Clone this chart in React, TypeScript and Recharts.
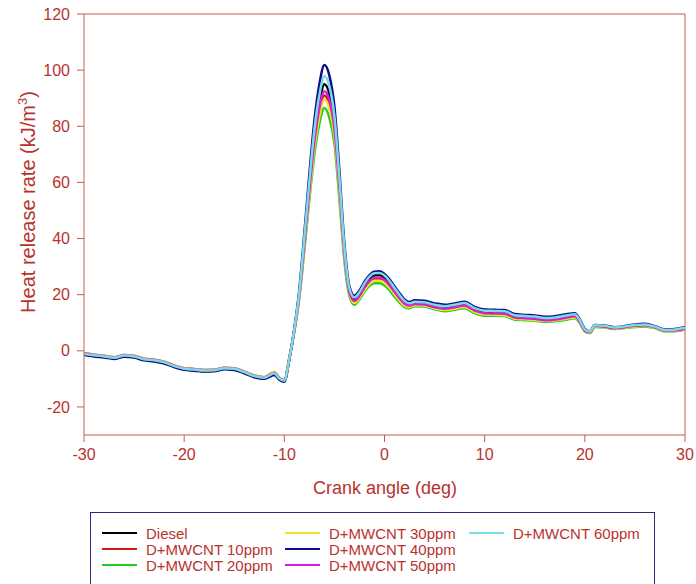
import React from "react";
import { LineChart, Line, XAxis, YAxis, Legend, ReferenceLine, Label } from "recharts";

// crank angle (deg)
const angles = [
  -30, -29, -28, -27, -26, -25, -24, -23, -22, -21, -20, -19, -18, -17, -16, -15, -14, -13, -12, -11,
  -10.5, -10, -9.5, -9, -8.5, -8, -7.5, -7, -6.5, -6, -5.5, -5, -4.5, -4, -3.5, -3,
  -2.5, -2, -1.5, -1, -0.5, 0, 0.5, 1, 1.5, 2, 2.5, 3,
  4, 5, 6, 7, 8, 9, 10, 11, 12, 13, 14, 15, 16, 17, 18, 19,
  19.5, 20, 20.5, 21,
  22, 23, 24, 25, 26, 27, 28, 29, 30,
];

// heat release rate (kJ/m3)
const diesel = [
  -1.3, -1.8, -2.2, -2.7, -1.9, -2.2, -3.2, -3.6, -4.3, -5.6, -6.6, -6.9, -7.2, -7.1, -6.4, -6.6, -7.8, -9.2, -9.8, -8.3,
  -10.1, -10.8, -2.8, 7.5, 20.5, 39.5, 59, 76.5, 88.5, 95, 91.5, 81.5, 59.5, 35.5, 21.5, 18.4,
  20.2, 23.3, 25.7, 26.9, 27.0, 26.1, 24.2, 21.8, 19.4, 17.3, 16.6, 17.2,
  17.0, 16.0, 15.5, 16.0, 16.6, 14.8, 13.9, 13.8, 13.7, 12.3, 12.0, 11.8, 11.3, 11.5, 12.1, 12.7,
  10.6, 7.4, 6.7, 8.9,
  8.7, 8.1, 8.5, 9.0, 9.2, 8.5, 7.3, 7.4, 8.0,
];
const mw10 = [
  -0.9, -1.4, -1.8, -2.3, -1.5, -1.8, -2.8, -3.2, -3.9, -5.2, -6.2, -6.5, -6.8, -6.7, -6.0, -6.2, -7.4, -8.8, -9.4, -7.6,
  -9.7, -10.4, -2.6, 7.2, 19.7, 37.6, 56.3, 73.3, 85, 91, 87.6, 77.8, 57.2, 34, 20.6, 17.5,
  19.2, 22.1, 24.4, 25.6, 25.7, 24.8, 23.0, 20.7, 18.4, 16.5, 15.9, 16.5,
  16.3, 15.3, 14.8, 15.3, 15.9, 14.1, 13.2, 13.1, 13.0, 11.7, 11.4, 11.2, 10.8, 11.0, 11.5, 12.1,
  10.2, 7.1, 6.5, 8.7,
  8.5, 7.9, 8.3, 8.8, 9.0, 8.3, 7.1, 7.2, 7.8,
];
const mw20 = [
  -1.0, -1.5, -1.9, -2.4, -1.6, -1.9, -2.9, -3.3, -4.0, -5.3, -6.3, -6.6, -6.9, -6.8, -6.1, -6.3, -7.5, -8.9, -9.5, -7.7,
  -9.8, -10.5, -2.5, 7, 19, 36, 54, 70, 81, 86.5, 83, 74, 54, 32, 19.5, 16.4,
  18.3, 21, 23.2, 24.1, 24.1, 23.3, 21.6, 19.3, 17.2, 15.6, 15.2, 15.9,
  15.8, 14.8, 14.1, 14.6, 15.2, 13.4, 12.5, 12.5, 12.4, 11.1, 10.9, 10.7, 10.3, 10.5, 11.0, 11.6,
  9.8, 6.9, 6.3, 8.5,
  8.3, 7.8, 8.1, 8.5, 8.7, 8.1, 6.9, 7.0, 7.5,
];
const mw30 = [
  -0.9, -1.4, -1.8, -2.3, -1.5, -1.8, -2.8, -3.2, -3.9, -5.2, -6.2, -6.5, -6.8, -6.7, -6.0, -6.2, -7.4, -8.8, -9.4, -7.5,
  -9.7, -10.4, -2.6, 7.0, 19.3, 37, 55.4, 72.1, 83.5, 89.5, 86.1, 76.5, 56.3, 33.4, 20.2, 17.0,
  18.8, 21.6, 23.9, 25.0, 25.0, 24.2, 22.4, 20.1, 17.9, 16.1, 15.6, 16.2,
  16.1, 15.1, 14.5, 15.0, 15.6, 13.8, 12.9, 12.8, 12.7, 11.4, 11.2, 11.0, 10.6, 10.8, 11.3, 11.9,
  10.0, 7.0, 6.4, 8.6,
  8.4, 7.9, 8.2, 8.7, 8.9, 8.2, 7.0, 7.1, 7.7,
];
const mw40 = [
  -1.5, -2.0, -2.4, -2.9, -2.1, -2.4, -3.4, -3.8, -4.5, -5.8, -6.8, -7.1, -7.4, -7.3, -6.6, -6.8, -8.0, -9.4, -10.0, -8.6,
  -10.3, -11.0, -3, 8, 22, 42, 63, 82, 95, 101.8, 98, 87, 64, 38, 23, 19.6,
  21.5, 24.6, 27, 28.2, 28.3, 27.4, 25.5, 23, 20.5, 18.3, 17.4, 18.0,
  17.8, 16.9, 16.4, 16.9, 17.5, 15.6, 14.7, 14.6, 14.5, 13.1, 12.8, 12.6, 12.1, 12.3, 12.9, 13.4,
  11.2, 7.8, 7.0, 9.2,
  9.0, 8.4, 8.8, 9.4, 9.6, 8.8, 7.6, 7.8, 8.4,
];
const mw50 = [
  -1.0, -1.5, -1.9, -2.4, -1.6, -1.9, -2.9, -3.3, -4.0, -5.3, -6.3, -6.6, -6.9, -6.8, -6.1, -6.3, -7.5, -8.9, -9.5, -7.8,
  -9.8, -10.5, -2.7, 7.3, 20, 38.2, 57.3, 74.5, 86.4, 92.5, 89.1, 79.1, 58.2, 34.5, 20.8, 17.8,
  19.5, 22.5, 24.8, 26.0, 26.1, 25.2, 23.4, 21.0, 18.7, 16.8, 16.1, 16.7,
  16.5, 15.5, 15.0, 15.5, 16.1, 14.3, 13.4, 13.3, 13.2, 11.9, 11.6, 11.4, 10.9, 11.1, 11.7, 12.3,
  10.3, 7.2, 6.6, 8.8,
  8.6, 8.0, 8.4, 8.9, 9.1, 8.4, 7.2, 7.3, 7.9,
];
const mw60 = [
  -1.1, -1.6, -2.0, -2.5, -1.7, -2.0, -3.0, -3.4, -4.1, -5.4, -6.4, -6.7, -7.0, -6.9, -6.2, -6.4, -7.6, -9.0, -9.6, -8.0,
  -9.9, -10.6, -2.8, 7.8, 21.2, 40.5, 60.5, 78.8, 91.2, 97.8, 94.2, 83.6, 61.5, 36.6, 22.2, 19.0,
  20.9, 24.0, 26.4, 27.6, 27.7, 26.8, 24.9, 22.4, 19.9, 17.8, 16.9, 17.5,
  17.3, 16.4, 15.9, 16.4, 17.0, 15.2, 14.3, 14.2, 14.1, 12.7, 12.4, 12.2, 11.7, 11.9, 12.5, 13.0,
  10.9, 7.6, 6.9, 9.1,
  8.9, 8.3, 8.7, 9.2, 9.4, 8.6, 7.4, 7.6, 8.2,
];

const xTicks = [-30, -20, -10, 0, 10, 20, 30];
const yTicks = [-20, 0, 20, 40, 60, 80, 100, 120];

const series = [
  { key: "diesel", name: "Diesel", color: "#000000", values: diesel },
  { key: "mw10", name: "D+MWCNT 10ppm", color: "#d01818", values: mw10 },
  { key: "mw20", name: "D+MWCNT 20ppm", color: "#22cc22", values: mw20 },
  { key: "mw30", name: "D+MWCNT 30ppm", color: "#f2e420", values: mw30 },
  { key: "mw40", name: "D+MWCNT 40ppm", color: "#0c0c8c", values: mw40 },
  { key: "mw50", name: "D+MWCNT 50ppm", color: "#d61ed6", values: mw50 },
  { key: "mw60", name: "D+MWCNT 60ppm", color: "#78dce4", values: mw60 },
];

const data = angles.map((a, i) => {
  const row: Record<string, number> = { angle: a };
  series.forEach(s => { row[s.key] = s.values[i]; });
  return row;
});

const FONT = "'Liberation Sans', Arial, sans-serif";
const TXT = "#b8322e";
const AXIS = "#c25a5a";

// legend: 3 columns, filled top to bottom
const legendCols = [11, 194, 378];
const legendRows = [20, 36, 52];

function LegendBox() {
  return (
    <div style={{
      position: "relative", width: 563, height: 80, border: "1px solid #2b2b80",
      background: "#fff", fontFamily: FONT, fontSize: 15, color: TXT,
    }}>
      {series.map((s, i) => (
        <div key={s.key} style={{
          position: "absolute", left: legendCols[Math.floor(i / 3)], top: legendRows[i % 3] - 9,
          display: "flex", alignItems: "center", height: 18, whiteSpace: "nowrap",
        }}>
          <span style={{ display: "inline-block", width: 35, height: 2, background: s.color, marginRight: 9 }} />
          <span>{s.name}</span>
        </div>
      ))}
    </div>
  );
}

export default function App() {
  return (
    <div style={{ position: "absolute", left: 0, top: 0, width: 696, height: 584, background: "#fff", overflow: "hidden" }}>
      <LineChart width={696} height={584} data={data} margin={{ top: 14, right: 11, left: 0, bottom: 99 }}>
        <XAxis
          dataKey="angle" type="number" domain={[-30, 30]} ticks={xTicks} allowDataOverflow
          stroke={AXIS} tickLine={{ stroke: AXIS }} tickSize={7} tickMargin={7} height={50}
          tick={{ fill: TXT, fontSize: 16, fontFamily: FONT }}
        >
          <Label
            content={() => (
              <text x={385} y={494} textAnchor="middle" fill={TXT} fontSize={18} fontFamily={FONT}>
                Crank angle (deg)
              </text>
            )}
          />
        </XAxis>
        <YAxis
          type="number" domain={[-30, 120]} ticks={yTicks} allowDataOverflow width={84}
          stroke={AXIS} tickLine={{ stroke: AXIS }} tickSize={7} tickMargin={7}
          tick={{ fill: TXT, fontSize: 16, fontFamily: FONT }}
        >
          <Label
            content={() => (
              <text transform="translate(35,202) rotate(-90)" textAnchor="middle" fill={TXT} fontSize={20} fontFamily={FONT}>
                Heat release rate (kJ/m<tspan dy={-8} fontSize={13}>3</tspan><tspan dy={8}>)</tspan>
              </text>
            )}
          />
        </YAxis>
        <ReferenceLine y={120} stroke={AXIS} />
        <ReferenceLine x={30} stroke={AXIS} />
        {series.map(s => (
          <Line
            key={s.key} dataKey={s.key} name={s.name} type="monotone"
            stroke={s.color} strokeWidth={2.5} dot={false} isAnimationActive={false}
          />
        ))}
        <Legend
          layout="horizontal" verticalAlign="middle" align="center"
          wrapperStyle={{ top: 512, left: 90, width: 565, height: 82 }}
          content={() => <LegendBox />}
        />
      </LineChart>
    </div>
  );
}
